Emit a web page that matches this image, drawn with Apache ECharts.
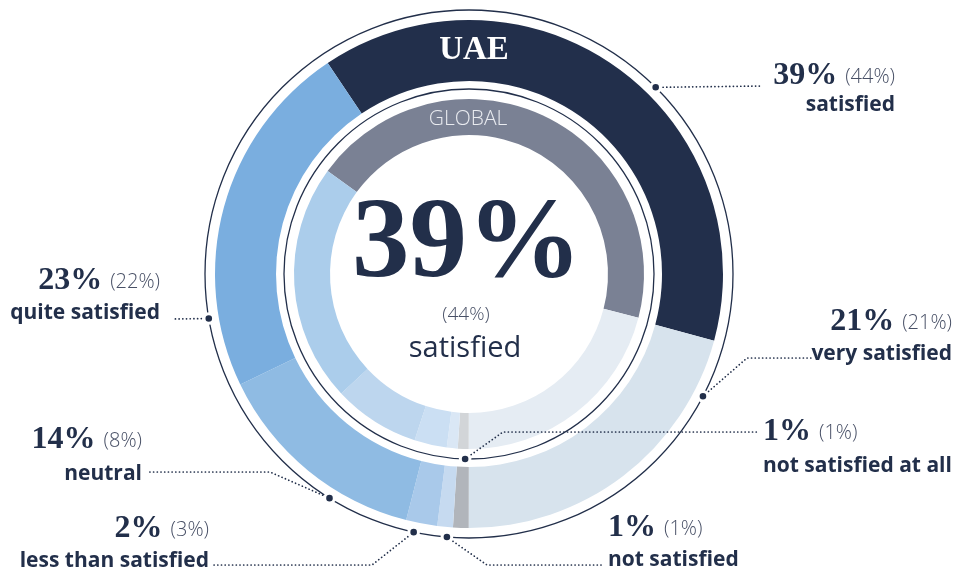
<!DOCTYPE html>
<html>
<head>
<meta charset="utf-8">
<script src="https://cdn.jsdelivr.net/npm/echarts@6/dist/echarts.min.js"></script>
<style>
  html, body { margin: 0; padding: 0; background: #ffffff; }
  #chart { width: 953px; height: 572px; }
</style>
</head>
<body>
<div id="chart"></div>
<script>
// Satisfaction shares: UAE (outer ring) against the global average (inner ring)
const categories = ['satisfied', 'very satisfied', 'not satisfied at all', 'not satisfied',
                    'less than satisfied', 'neutral', 'quite satisfied'];
const uaeValues = [39, 21, 1, 1, 2, 14, 23];
const globalValues = [44, 21, 1, 1, 3, 8, 22];
const ringNames = ['UAE', 'GLOBAL'];

const uaeColors = ['#222f4b', '#d7e3ed', '#b1b5bb', '#c6daf0', '#a9c9ea', '#8fbbe3', '#7aaedf'];
const globalColors = ['#7a8194', '#e5ecf3', '#d2d5d8', '#dae7f5', '#cbdff3', '#bdd6ee', '#abcdeb'];

const NAVY = '#222f4a';
const GREY_TEXT = '#485066';
const CX = 469, CY = 274;
const R_OUTER_LINE = 264, R_MID_LINE = 185;

// Callout layout per category: anchor angle (clockwise from 12 o'clock), anchor circle,
// dotted path after the anchor dot, text alignment and line centres.
const callouts = [
  { angle: 45,    r: R_OUTER_LINE, path: [[762, 86]],              align: 'right', x: 895, y1: 76,  y2: 105 },
  { angle: 117.6, r: R_OUTER_LINE, path: [[747, 358], [812, 358]], align: 'right', x: 952, y1: 322, y2: 354 },
  { angle: 181.2, r: R_MID_LINE,   path: [[503, 432], [757, 432]], align: 'left',  x: 763, y1: 432, y2: 466 },
  { angle: 184.8, r: R_OUTER_LINE, path: [[487, 565], [603, 565]], align: 'left',  x: 608, y1: 528, y2: 560 },
  { angle: 192.1, r: R_OUTER_LINE, path: [[372, 565], [213, 565]], align: 'right', x: 209, y1: 529, y2: 561 },
  { angle: 211.9, r: R_OUTER_LINE, path: [[270, 472], [148, 472]], align: 'right', x: 142, y1: 440, y2: 474 },
  { angle: 260.3, r: R_OUTER_LINE, path: [[173, 319]],             align: 'right', x: 160, y1: 281, y2: 313 }
];

const FONT_VALUE = { size: 32, family: '"Liberation Serif", serif', weight: 'bold' };
const FONT_GLOBAL = { size: 20, family: '"Open Sans", sans-serif', weight: 300 };
const FONT_NAME = { size: 21, family: '"Open Sans", sans-serif', weight: 'bold' };

const measureCtx = document.createElement('canvas').getContext('2d');
function textWidth(text, f) {
  measureCtx.font = f.weight + ' ' + f.size + 'px ' + f.family;
  return measureCtx.measureText(text).width;
}

function text(x, y, str, f, color, align) {
  return {
    type: 'text', x: x, y: y, z: 20, silent: true,
    style: {
      text: str, fill: color, fontSize: f.size, fontFamily: f.family, fontWeight: f.weight,
      align: align || 'left', verticalAlign: 'middle'
    }
  };
}

function ringData(values, colors) {
  return categories.map((name, i) => ({ name: name, value: values[i], itemStyle: { color: colors[i] } }));
}

const graphics = [];

// thin guide circles around and between the rings
[R_OUTER_LINE, R_MID_LINE].forEach(r => {
  graphics.push({
    type: 'circle', z: 5, silent: true,
    shape: { cx: CX, cy: CY, r: r },
    style: { fill: 'none', stroke: NAVY, lineWidth: 1.3 }
  });
});

// callouts: dotted leader, anchor dot, value texts
callouts.forEach((c, i) => {
  const a = c.angle * Math.PI / 180;
  const px = CX + c.r * Math.sin(a);
  const py = CY - c.r * Math.cos(a);
  graphics.push({
    type: 'polyline', z: 10, silent: true,
    shape: { points: [[px, py]].concat(c.path) },
    style: { fill: 'none', stroke: NAVY, lineWidth: 1.7, lineDash: [0.1, 3.6], lineCap: 'round' }
  });
  graphics.push({
    type: 'circle', z: 12, silent: true,
    shape: { cx: px, cy: py, r: 4.8 },
    style: { fill: NAVY, stroke: '#ffffff', lineWidth: 3 }
  });

  const valStr = uaeValues[i] + '%';
  const gloStr = '(' + globalValues[i] + '%)';
  const wVal = textWidth(valStr, FONT_VALUE);
  const wGlo = textWidth(gloStr, FONT_GLOBAL);
  const gap = 8;
  let xVal;
  if (c.align === 'left') {
    xVal = c.x;
  } else {
    xVal = c.x - wGlo - gap - wVal;
  }
  graphics.push(text(xVal, c.y1, valStr, FONT_VALUE, NAVY, 'left'));
  graphics.push(text(xVal + wVal + gap, c.y1 + 1, gloStr, FONT_GLOBAL, GREY_TEXT, 'left'));
  graphics.push(text(c.x, c.y2, categories[i], FONT_NAME, NAVY, c.align));
});

// ring titles
graphics.push(text(CX + 5, 50, ringNames[0], { size: 33, family: '"Liberation Serif", serif', weight: 'bold' }, '#ffffff', 'center'));
graphics.push(text(CX - 1, 119, ringNames[1], { size: 21, family: '"Open Sans", sans-serif', weight: 300 }, '#e9ebf0', 'center'));

// centre headline
graphics.push(text(CX - 2, 246, uaeValues[0] + '%', { size: 115, family: '"Liberation Serif", serif', weight: 'bold' }, NAVY, 'center'));
graphics.push(text(CX - 3, 315, '(' + globalValues[0] + '%)', { size: 19, family: '"Open Sans", sans-serif', weight: 300 }, GREY_TEXT, 'center'));
graphics.push(text(CX - 4, 349, categories[0], { size: 29, family: '"Open Sans", sans-serif', weight: 'normal' }, NAVY, 'center'));

const chart = echarts.init(document.getElementById('chart'), null, { renderer: 'canvas' });
chart.setOption({
  animation: false,
  backgroundColor: '#ffffff',
  series: [
    {
      name: ringNames[0], type: 'pie', center: [CX, CY], radius: [193, 254],
      startAngle: 123.8, clockwise: true, silent: true,
      label: { show: false }, labelLine: { show: false },
      itemStyle: { borderWidth: 0 },
      data: ringData(uaeValues, uaeColors)
    },
    {
      name: ringNames[1], type: 'pie', center: [CX, CY], radius: [139, 175],
      startAngle: 143.9, clockwise: true, silent: true,
      label: { show: false }, labelLine: { show: false },
      itemStyle: { borderWidth: 0 },
      data: ringData(globalValues, globalColors)
    }
  ],
  graphic: { elements: graphics }
});
</script>
</body>
</html>
